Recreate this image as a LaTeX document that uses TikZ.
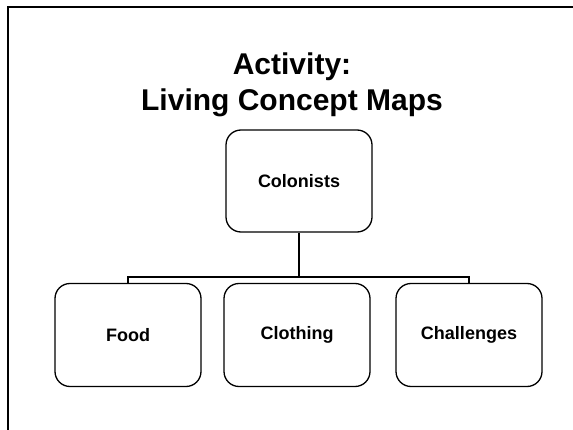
\documentclass[tikz,border=0pt]{standalone}
\usepackage{fontspec}
\setmainfont{Liberation Sans}
\usetikzlibrary{positioning, calc}

\begin{document}
\begin{tikzpicture}[x=1pt, y=-1pt]%
            \tikzstyle{state}=[draw, rounded corners=15pt, line width=1.3pt, minimum width=146pt, minimum height=103pt, font=\fontsize{18}{21}\selectfont\bfseries];%
            \useasboundingbox (0,0) rectangle (573,430);
            \draw[line width=2pt] (8,430) -- (8,7) -- (573,7);

            \node[align=center, font=\fontsize{30}{36}\selectfont\bfseries] (t) at (292,85) {Activity:\\Living Concept Maps};

            \node (0) at (299,181) [state, minimum height=102pt] {Colonists};
            \node (1) at (128,335) [state] {Food};
            \node (2) at (297,335) [state] {Clothing};
            \node (3) at (469,335) [state] {Challenges};

            \coordinate (4) at (128,277);
            \coordinate (5) at (469,277);
            \draw[line width=1.3pt] (0.south) -- (0.south |- 4);
            \draw[line width=1.3pt] (1.north) -- (4) -- (5) -- (3.north);
        \end{tikzpicture}
\end{document}
